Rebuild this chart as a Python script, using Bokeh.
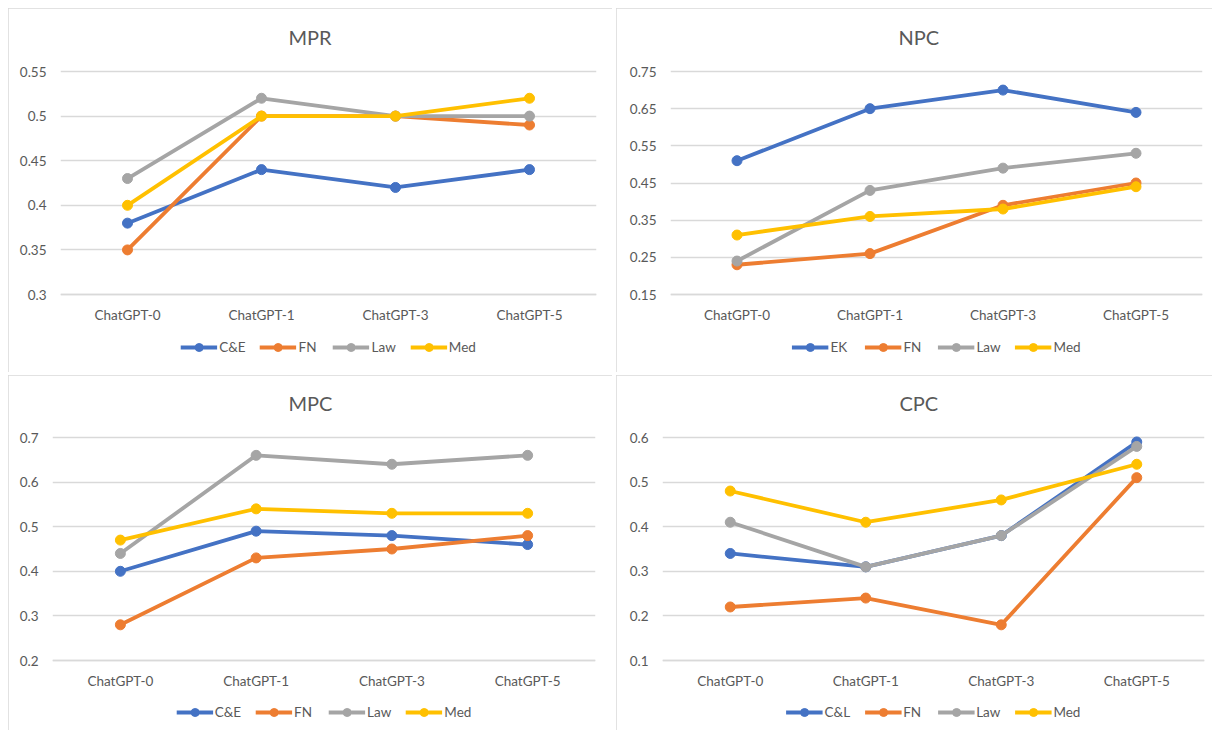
from bokeh.plotting import figure
from bokeh.models import (FactorRange, Range1d, FixedTicker, CustomJSTickFormatter,
                          Legend, LegendItem, Title, Spacer)
from bokeh.layouts import row, column
from bokeh.embed import file_html
from bokeh.resources import INLINE

categories = ["ChatGPT-0", "ChatGPT-1", "ChatGPT-3", "ChatGPT-5"]

# MPR
mpr_names = ["C&E", "FN", "Law", "Med"]
mpr_ce = [0.38, 0.44, 0.42, 0.44]
mpr_fn = [0.35, 0.50, 0.50, 0.49]
mpr_law = [0.43, 0.52, 0.50, 0.50]
mpr_med = [0.40, 0.50, 0.50, 0.52]
mpr_ticks = [0.3, 0.35, 0.4, 0.45, 0.5, 0.55]

# NPC
npc_names = ["EK", "FN", "Law", "Med"]
npc_ek = [0.51, 0.65, 0.70, 0.64]
npc_fn = [0.23, 0.26, 0.39, 0.45]
npc_law = [0.24, 0.43, 0.49, 0.53]
npc_med = [0.31, 0.36, 0.38, 0.44]
npc_ticks = [0.15, 0.25, 0.35, 0.45, 0.55, 0.65, 0.75]

# MPC
mpc_names = ["C&E", "FN", "Law", "Med"]
mpc_ce = [0.40, 0.49, 0.48, 0.46]
mpc_fn = [0.28, 0.43, 0.45, 0.48]
mpc_law = [0.44, 0.66, 0.64, 0.66]
mpc_med = [0.47, 0.54, 0.53, 0.53]
mpc_ticks = [0.2, 0.3, 0.4, 0.5, 0.6, 0.7]

# CPC
cpc_names = ["C&L", "FN", "Law", "Med"]
cpc_cl = [0.34, 0.31, 0.38, 0.59]
cpc_fn = [0.22, 0.24, 0.18, 0.51]
cpc_law = [0.41, 0.31, 0.38, 0.58]
cpc_med = [0.48, 0.41, 0.46, 0.54]
cpc_ticks = [0.1, 0.2, 0.3, 0.4, 0.5, 0.6]

colors = ["#4472C4", "#ED7D31", "#A5A5A5", "#FFC000"]

FONT = "Lato"
TXT = "#595959"
GRID = "#D9D9D9"


def make_panel(title, names, series, ticks, width, height, left, right, top, bottom,
               grid_top, grid_bottom, title_offset, legend_center):
    # the frame reaches above and below the gridded area, so that the title,
    # the category labels and the legend sit where the reference has them
    span = ticks[-1] - ticks[0]
    per_px = span / (grid_bottom - grid_top)
    frame_bottom = height - bottom
    y_end = ticks[-1] + (grid_top - top) * per_px
    y_start = ticks[0] - (frame_bottom - grid_bottom) * per_px
    p = figure(x_range=FactorRange(*categories, range_padding=0),
               y_range=Range1d(y_start, y_end),
               width=width, height=height, output_backend="svg",
               toolbar_location=None, tools="",
               min_border_left=left, min_border_right=right,
               min_border_top=top, min_border_bottom=bottom)
    p.styles = {"outline": "1.5px solid #D9D9D9", "outline-offset": "-1.5px"}
    p.outline_line_color = None
    p.background_fill_color = "white"
    p.border_fill_color = "white"

    t = Title(text=title, align="left", offset=title_offset,
              text_font=FONT, text_font_size="20px", text_font_style="normal",
              text_color=TXT, standoff=14)
    p.add_layout(t, "above")

    p.xgrid.grid_line_color = None
    p.ygrid.grid_line_color = GRID
    p.ygrid.grid_line_width = 1.5
    p.yaxis.ticker = FixedTicker(ticks=ticks)
    p.yaxis.formatter = CustomJSTickFormatter(code="return String(parseFloat(tick.toFixed(2)));")
    for ax in (p.xaxis, p.yaxis):
        ax.major_tick_line_color = None
        ax.minor_tick_line_color = None
        ax.major_tick_out = 0
        ax.major_tick_in = 0
        ax.minor_tick_out = 0
        ax.minor_tick_in = 0
        ax.major_label_text_font = FONT
        ax.major_label_text_font_size = "13.5px"
        ax.major_label_text_color = TXT
    p.yaxis.axis_line_color = None
    p.yaxis.major_label_standoff = 14
    p.xaxis.fixed_location = ticks[0]
    p.xaxis.axis_line_color = GRID
    p.xaxis.axis_line_width = 1.5
    p.xaxis.major_label_standoff = 12

    items = []
    for name, vals, c in zip(names, series, colors):
        l = p.line(categories, vals, line_color=c, line_width=3.8)
        s = p.scatter(categories, vals, size=10, fill_color=c, line_color=c)
        items.append(LegendItem(label=name, renderers=[l, s]))
    leg = Legend(items=items, orientation="horizontal", location="bottom_center",
                 margin=max(0, frame_bottom - legend_center - 10),
                 label_text_font=FONT, label_text_font_size="13.5px",
                 label_text_color=TXT, glyph_width=37, glyph_height=20, label_height=20,
                 label_standoff=2, spacing=14, padding=0,
                 border_line_color=None, background_fill_alpha=0)
    p.add_layout(leg, "center")
    return p


p1 = make_panel("MPR", mpr_names, [mpr_ce, mpr_fn, mpr_law, mpr_med], mpr_ticks,
                604, 364, 52, 16, 47, 2, 63, 286, 228, 339)
p2 = make_panel("NPC", npc_names, [npc_ek, npc_fn, npc_law, npc_med], npc_ticks,
                596, 364, 54, 10, 47, 2, 63, 286, 228, 339)
p3 = make_panel("MPC", mpc_names, [mpc_ce, mpc_fn, mpc_law, mpc_med], mpc_ticks,
                604, 355, 44, 17, 46, 2, 62, 285, 236, 337)
p4 = make_panel("CPC", cpc_names, [cpc_cl, cpc_fn, cpc_law, cpc_med], cpc_ticks,
                596, 355, 46, 8, 46, 2, 62, 285, 237, 337)

layout = column(
    Spacer(height=8),
    row(Spacer(width=8), p1, Spacer(width=4), p2),
    Spacer(height=3),
    row(Spacer(width=8), p3, Spacer(width=4), p4),
)

open("out.html", "w").write(file_html(layout, INLINE))
